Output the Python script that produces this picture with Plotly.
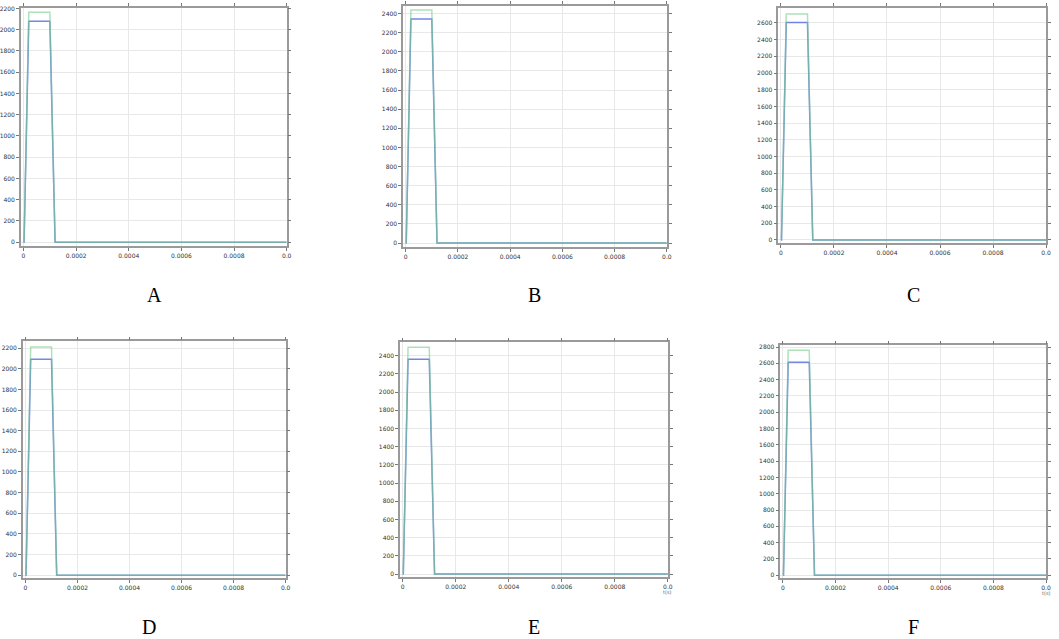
import plotly.graph_objects as go

# time points of the pulse (s)
time = [0, 0.000002, 0.00002, 0.0001, 0.00012, 0.001]

# plateau values
panels = ["A", "B", "C", "D", "E", "F"]
green_peak = [2165, 2438, 2708, 2210, 2492, 2760]
blue_peak = [2080, 2344, 2605, 2091, 2361, 2613]
y_top = [2205, 2480, 2780, 2265, 2545, 2820]
y_bottom = [-35, -40, -35, -30, -35, -37]
y_tick_max = [2200, 2400, 2600, 2200, 2400, 2800]

x_ticks = [0, 0.0002, 0.0004, 0.0006, 0.0008, 0.001]
x_tick_text = ["0", "0.0002", "0.0004", "0.0006", "0.0008", "0.0"]

# pulse shape: 0 -> plateau -> 0
shape = [0, 0, 1, 1, 0, 0]

# plot area boxes in pixels (left, right, top, bottom) and label centres
W, H = 1059, 639
boxes = [
    (21, 288, 5, 244), (405, 670, 3, 245), (782, 1051, 5, 241),
    (23, 287, 340, 578), (402, 671, 341, 577), (784, 1051, 344, 578),
]
label_pos = [(155, 293), (537, 293), (918, 293), (150, 630), (537, 630), (918, 630)]

fig = go.Figure()
layout = {}

for i, name in enumerate(panels):
    n = i + 1
    xa = "x" if n == 1 else f"x{n}"
    ya = "y" if n == 1 else f"y{n}"
    fig.add_trace(go.Scatter(
        x=time, y=[s * blue_peak[i] for s in shape],
        mode="lines", line=dict(color="rgba(90,115,225,0.85)", width=1.5),
        xaxis=xa, yaxis=ya, showlegend=False,
    ))
    fig.add_trace(go.Scatter(
        x=time, y=[s * green_peak[i] for s in shape],
        mode="lines", line=dict(color="rgba(120,205,140,0.6)", width=1.5),
        xaxis=xa, yaxis=ya, showlegend=False,
    ))
    l, r, t, b = boxes[i]
    common = dict(
        showgrid=True, gridcolor="#e8e8e8", gridwidth=1,
        zeroline=False, showline=True, linecolor="#9a9a9a", linewidth=1.5,
        mirror="ticks", ticks="outside", ticklen=3, tickcolor="#777",
        tickfont=dict(family="DejaVu Sans", size=6, color="#333"),
    )
    layout["xaxis" if n == 1 else f"xaxis{n}"] = dict(
        common, domain=[l / W, r / W], anchor=ya,
        range=[-0.00001, 0.001], tickvals=x_ticks, ticktext=x_tick_text,
    )
    layout["yaxis" if n == 1 else f"yaxis{n}"] = dict(
        common, domain=[1 - b / H, 1 - t / H], anchor=xa,
        range=[y_bottom[i], y_top[i]],
        tickvals=list(range(0, y_tick_max[i] + 1, 200)),
    )
    lx, ly = label_pos[i]
    bottom_row = i >= 3
    fig.add_annotation(
        x=lx / W, y=0 if bottom_row else 1 - ly / H,
        xref="paper", yref="paper",
        xanchor="center", yanchor="bottom" if bottom_row else "middle",
        borderpad=0, text=name, showarrow=False,
        font=dict(family="Liberation Serif", size=20, color="black"),
    )
    if name in ("E", "F"):
        fig.add_annotation(
            x=0.001, y=0, xref=xa, yref=f"{ya} domain",
            text="t(s)", showarrow=False, yshift=-20,
            font=dict(family="DejaVu Sans", size=5, color="#666"),
        )

fig.update_layout(
    **layout,
    width=W, height=H,
    margin=dict(l=0, r=0, t=0, b=0),
    paper_bgcolor="white", plot_bgcolor="white",
)

# the page body has an 8px default margin; drop it so the figure sits at 0,0
fig.write_html(
    "out.html",
    config={"displayModeBar": False},
    post_script="document.body.style.margin='0';",
)
